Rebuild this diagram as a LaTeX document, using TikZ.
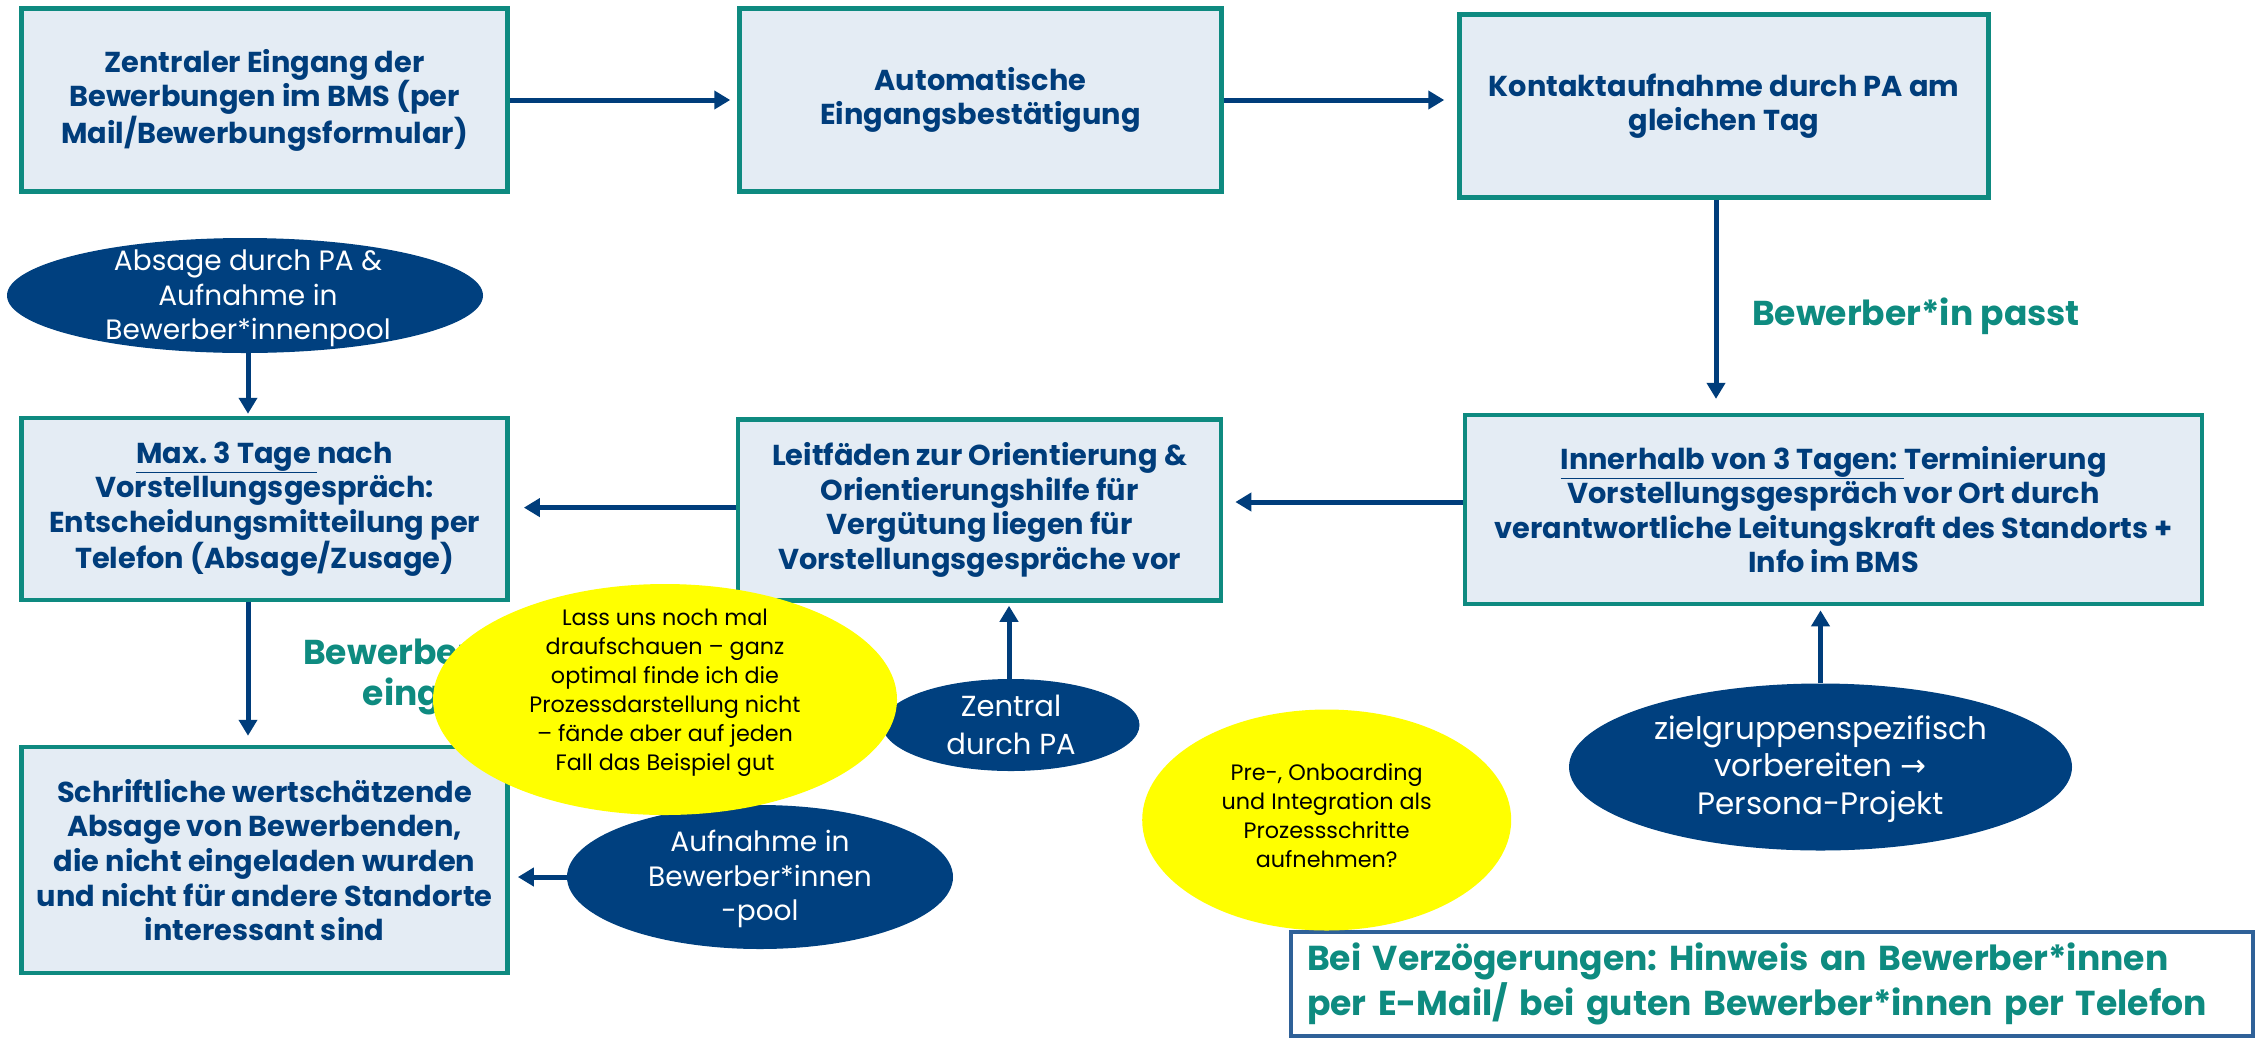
\documentclass[tikz,border=0pt]{standalone}
\usepackage{fontspec}
\setmainfont{Poppins}
\newfontfamily\boxfont{Poppins}
\newfontfamily\ovalfont{Poppins}
\newfontfamily\notefont{Poppins}
\newfontfamily\arrowfont{DejaVu Sans}
\usetikzlibrary{arrows.meta,shapes.geometric,calc}
\definecolor{boxfill}{HTML}{E4ECF4}
\definecolor{boxline}{HTML}{0E8A80}
\definecolor{navy}{HTML}{003D7B}
\definecolor{ovalblue}{HTML}{00407F}
\definecolor{labelgreen}{HTML}{0E8B80}
\definecolor{notebg}{HTML}{FFFF00}
\definecolor{frameblue}{HTML}{2F6198}
\frenchspacing
\begin{document}
\begin{tikzpicture}[x=1pt,y=-1pt,
  stepbox/.style={draw=boxline, line width=4.5pt, fill=boxfill, rectangle,
    inner sep=0pt, align=center, text=navy,
    font=\boxfont\bfseries\fontsize{28.8}{34.6}\selectfont},
  oval/.style={ellipse, fill=ovalblue, inner sep=0pt},
  ovaltext/.style={inner sep=0pt, align=center, text=white,
    font=\ovalfont\fontsize{28}{34.6}\selectfont},
  note/.style={ellipse, fill=notebg, inner sep=0pt},
  notetext/.style={inner sep=0pt, align=center, text=black,
    font=\notefont\fontsize{22.3}{29}\selectfont},
  flow/.style={draw=navy, line width=5pt, -{Triangle[width=18pt,length=16pt]}},
  tag/.style={text=labelgreen, inner sep=0pt, align=center,
    font=\boxfont\bfseries\fontsize{34.5}{40.5}\selectfont},
]
\useasboundingbox (0,0) rectangle (2261,1037);

% process steps
\node[stepbox, minimum width=486, minimum height=183] (eingang) at (264.6,100)
  {Zentraler Eingang der\\Bewerbungen im BMS (per\\Mail/Bewerbungsformular)};
\node[stepbox, minimum width=482, minimum height=183] (bestaetigung) at (980.5,100)
  {Automatische\\Eingangsbestätigung};
\node[stepbox, minimum width=529, minimum height=183] (kontakt) at (1724,106)
  {Kontaktaufnahme durch PA am\\gleichen Tag};
\node[stepbox, minimum width=737, minimum height=189] (termin) at (1833.6,509.6)
  {\underline{Innerhalb von 3 Tagen: }Terminierung\\Vorstellungsgespräch vor Ort durch\\verantwortliche Leitungskraft des Standorts +\\Info im BMS};
\node[stepbox, minimum width=483, minimum height=181] (leitfaden) at (979.6,510)
  {Leitfäden zur Orientierung \&\\Orientierungshilfe für\\Vergütung liegen für\\Vorstellungsgespräche vor};
\node[stepbox, minimum width=486, minimum height=182] (entscheidung) at (264.6,509)
  {\underline{Max. 3 Tage }nach\\Vorstellungsgespräch:\\Entscheidungsmitteilung per\\Telefon (Absage/Zusage)};
\node[stepbox, minimum width=486, minimum height=226] (absage) at (264.6,860)
  {Schriftliche wertschätzende\\Absage von Bewerbenden,\\die nicht eingeladen wurden\\und nicht für andere Standorte\\interessant sind};

% side notes in ovals
\node[oval, minimum width=476, minimum height=115] (pool) at (245,295.5) {};
\node[ovaltext] (pool-t) at (248,298.5) {Absage durch PA \&\\Aufnahme in\\Bewerber*innenpool};
\node[oval, minimum width=257, minimum height=92] (zentral) at (1011,725) {};
\node[ovaltext, font=\ovalfont\fontsize{29}{37.5}\selectfont] (zentral-t) at (1011,725) {Zentral\\durch PA};
\node[oval, minimum width=503, minimum height=167] (persona) at (1820.5,767) {};
\node[ovaltext, font=\ovalfont\fontsize{31}{37.5}\selectfont] (persona-t) at (1820.5,769)
  {zielgruppenspezifisch\\vorbereiten {\arrowfont →}\\Persona-Projekt};
\node[oval, minimum width=386, minimum height=144] (aufnahme) at (760,877) {};
\node[ovaltext] (aufnahme-t) at (760,879) {Aufnahme in\\Bewerber*innen\\-pool};

% edge labels
\node[tag] (passt) at (1916,316) {Bewerber*in passt};
\node[tag, anchor=west] (nicht) at (303,676) {Bewerber*in nicht\\eingeladen};

% connectors
\draw[flow, shorten >=7pt] (eingang.east) -- (bestaetigung.west);
\draw[flow, shorten >=13pt] (bestaetigung.east) -- (kontakt.west |- bestaetigung.east);
\draw[flow, shorten >=14pt] (kontakt.south -| 1716,0) -- (1716,0 |- termin.north);
\draw[flow, shorten >=12pt] (termin.west |- 0,502) -- (leitfaden.east |- 0,502);
\draw[flow, shorten >=14pt] (leitfaden.west |- 0,507.6) -- (entscheidung.east |- 0,507.6);
\draw[flow, shorten >=2pt] (pool.south -| 248,0) -- (248,0 |- entscheidung.north);
\draw[flow, shorten >=9pt] (entscheidung.south -| 248,0) -- (248,0 |- absage.north);
\draw[flow, shorten >=3pt] (zentral.north -| 1009,0) -- (1009,0 |- leitfaden.south);
\draw[flow, shorten >=4pt] (persona.north) -- (persona.north |- termin.south);
\draw[flow, shorten >=8pt] (aufnahme.west) -- (absage.east |- aufnahme.west);

% delay notice
\node[draw=frameblue, line width=4pt, anchor=north west, minimum width=962,
  minimum height=104, text width=930, inner xsep=16pt, align=left,
  text=labelgreen, font=\boxfont\bfseries\fontsize{34.6}{45}\selectfont]
  (verzoegerung) at (1289,930)
  {Bei Verzögerungen: Hinweis an Bewerber*innen\\per E-Mail/ bei guten Bewerber*innen per Telefon};

% review comments
\node[note, minimum width=464, minimum height=231] (kommentar) at (665,699.5) {};
\node[notetext] (kommentar-t) at (665,693)
  {Lass uns noch mal\\draufschauen – ganz\\optimal finde ich die\\Prozessdarstellung nicht\\– fände aber auf jeden\\Fall das Beispiel gut};
\node[note, minimum width=369, minimum height=221] (onboarding) at (1326.7,820) {};
\node[notetext] (onboarding-t) at (1326.7,816)
  {Pre-, Onboarding\\und Integration als\\Prozessschritte\\aufnehmen?};
\end{tikzpicture}
\end{document}
